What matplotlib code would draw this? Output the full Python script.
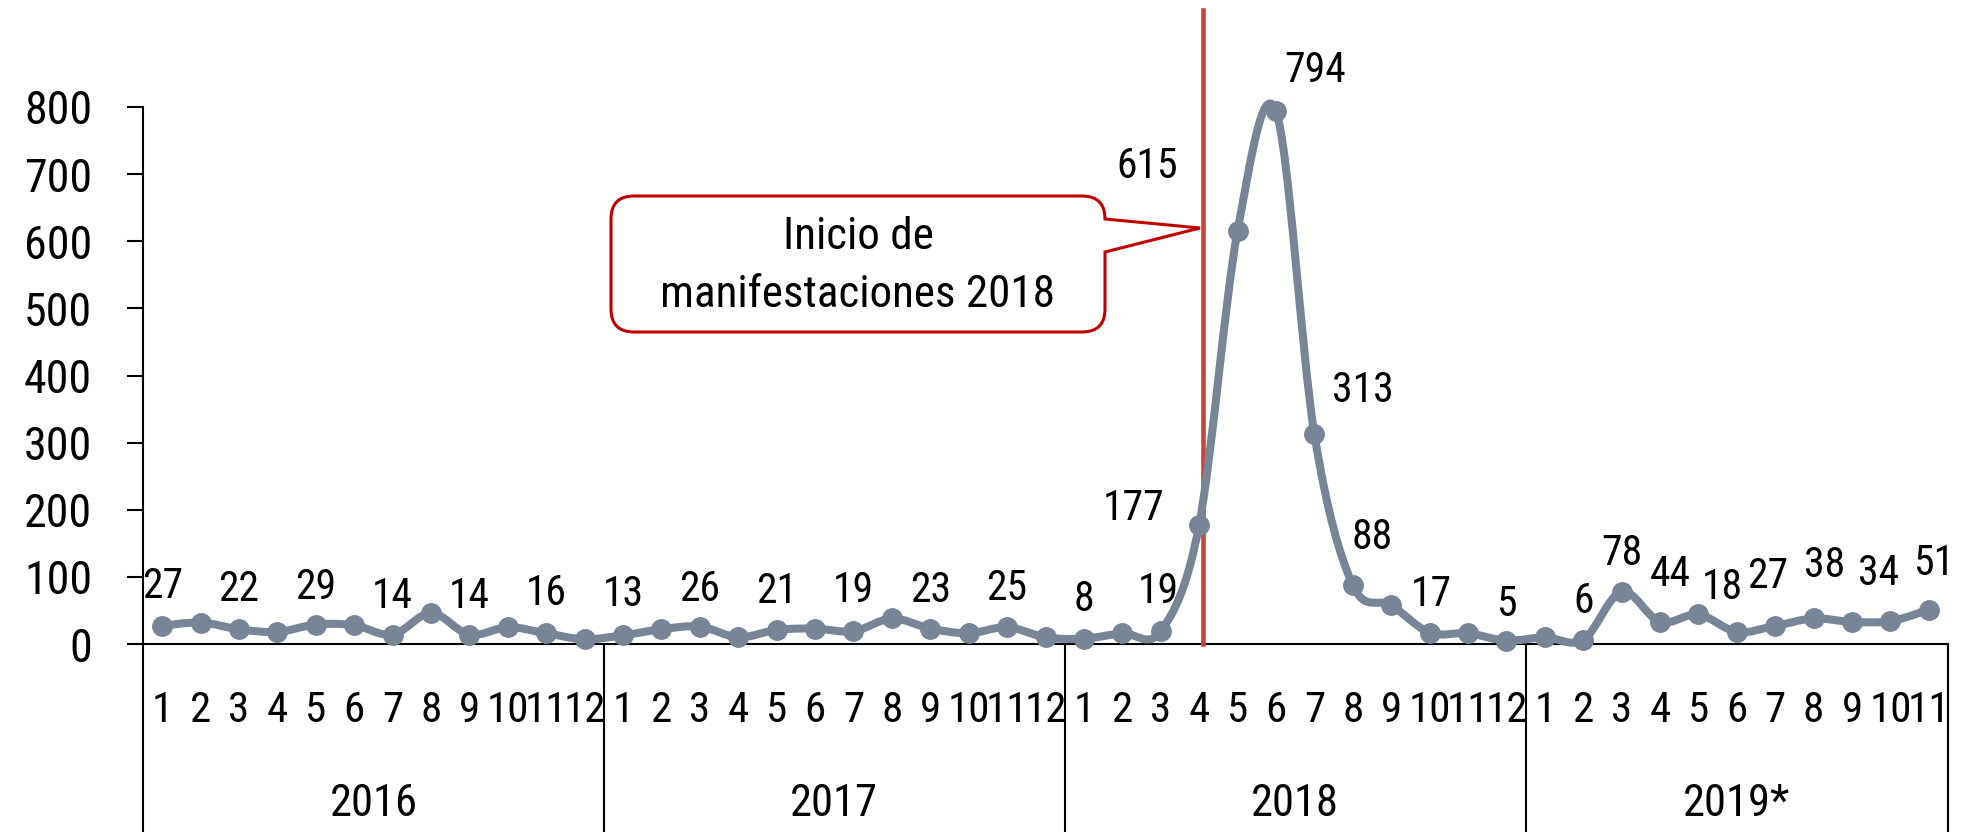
import numpy as np
import matplotlib
matplotlib.use('Agg')
import matplotlib.pyplot as plt
import matplotlib.transforms as mtransforms
from matplotlib.path import Path
from matplotlib.patches import PathPatch
from matplotlib import font_manager

# data: monthly counts 2016-01 .. 2019-11
years = ['2016', '2017', '2018', '2019*']
months_per_year = [12, 12, 12, 11]
values = [27, 32, 22, 18, 29, 28, 14, 46, 14, 25, 16, 7,
          13, 22, 26, 10, 21, 23, 19, 38, 23, 16, 25, 10,
          8, 16, 19, 177, 615, 794, 313, 88, 58, 17, 16, 5,
          10, 6, 78, 33, 44, 18, 27, 38, 33, 34, 51]
# which points carry a value label
label_idx = [0, 2, 4, 6, 8, 10, 12, 14, 16, 18, 20, 22,
             24, 26, 27, 28, 29, 30, 31, 33, 35,
             37, 38, 40, 41, 42, 43, 45, 46]
# label offsets in pixels (layout only)
label_off = [(0, 43), (0, 43), (0, 41), (0, 42), (0, 42), (0, 43),
             (0, 44), (0, 41), (0, 42), (0, 44), (0, 42), (0, 42),
             (0, 43), (-2, 43), (-65, 20), (-90, 68), (39, 44), (49, 47), (20, 51), (2, 42), (0, 40),
             (0, 42), (0, 42), (-28, 43), (-14, 48), (-7, 53), (11, 56), (-12, 51), (5, 50)]
event_x = 27.1
event_text = 'Inicio de\nmanifestaciones 2018'

W, H = 1962, 832
line_col = '#778596'


def pick(cands):
    for c in cands:
        try:
            font_manager.findfont(font_manager.FontProperties(family=c), fallback_to_default=False)
            return c
        except Exception:
            pass
    return 'DejaVu Sans'


main_font = pick(['Roboto Condensed', 'Liberation Sans Narrow', 'Roboto'])
narrow_font = pick(['Liberation Sans Narrow', 'Roboto Condensed', 'DejaVu Sans Condensed', 'Roboto'])
plt.rcParams['font.family'] = [main_font, 'DejaVu Sans']

fig = plt.figure(figsize=(W / 100, H / 100), dpi=100)
ax = fig.add_axes([143 / W, 1 - 644 / H, (1948 - 143) / W, (644 - 107) / H])

n = len(values)
x = np.arange(n)
pts = np.column_stack([x, values]).astype(float)

# smoothed line (catmull-rom as cubic bezier, like excel's smooth line)
verts = [pts[0]]
codes = [Path.MOVETO]
for i in range(n - 1):
    p0 = pts[max(i - 1, 0)]
    p1 = pts[i]
    p2 = pts[i + 1]
    p3 = pts[min(i + 2, n - 1)]
    verts += [p1 + (p2 - p0) / 6, p2 - (p3 - p1) / 6, p2]
    codes += [Path.CURVE4] * 3
ax.add_patch(PathPatch(Path(verts, codes), facecolor='none', edgecolor=line_col,
                       lw=5.8, capstyle='round', joinstyle='round', clip_on=False, zorder=4))
ax.plot(x, values, 'o', ms=14, color=line_col, clip_on=False, zorder=5)

for k, i in enumerate(label_idx):
    dx, dy = label_off[k]
    ax.annotate(str(values[i]), (i, values[i]), xytext=(dx, dy - 15), textcoords='offset pixels',
                ha='center', va='baseline', fontsize=30, color='black', annotation_clip=False)

ax.set_xlim(-0.5, n - 0.5)
ax.set_ylim(0, 800)
ax.set_yticks(np.arange(0, 801, 100))
ax.tick_params(axis='y', direction='out', length=11.5, width=1.5, pad=25, labelsize=33)
ax.set_xticks([])
for s in ['top', 'right']:
    ax.spines[s].set_visible(False)
ax.spines['left'].set_linewidth(1.5)
ax.spines['bottom'].set_linewidth(1.5)

# red event line
ax.plot([event_x, event_x], [0, 944], color='#C9453B', lw=3.3, clip_on=False, zorder=3)

# multi-level category axis
trans = mtransforms.blended_transform_factory(ax.transData, ax.transAxes)
pos = 0
bounds = [-0.5]
for yr, nm in zip(years, months_per_year):
    for m in range(nm):
        ax.text(pos + m, -0.1453, str(m + 1), transform=trans, ha='center', va='baseline',
                fontsize=31, family=[narrow_font, 'DejaVu Sans'])
    ax.text(pos + (nm - 1) / 2, -0.3203, yr, transform=trans, ha='center', va='baseline', fontsize=32)
    pos += nm
    bounds.append(pos - 0.5)
for b in bounds:
    ax.plot([b, b], [0, -0.36], transform=trans, color='black', lw=1.5, clip_on=False)

# callout box pointing at the red line
L, R, T, B, r = 611, 1105, 196, 332, 23
tip = (1200, 228)
bv = [(L + r, T), (R - r, T), (R, T), (R, T + r), (R, 219), tip, (R, 252), (R, B - r),
      (R, B), (R - r, B), (L + r, B), (L, B), (L, B - r), (L, T + r), (L, T), (L + r, T), (L + r, T)]
bc = [Path.MOVETO, Path.LINETO, Path.CURVE3, Path.CURVE3, Path.LINETO, Path.LINETO, Path.LINETO,
      Path.LINETO, Path.CURVE3, Path.CURVE3, Path.LINETO, Path.CURVE3, Path.CURVE3, Path.LINETO,
      Path.CURVE3, Path.CURVE3, Path.CLOSEPOLY]
px = mtransforms.Affine2D().scale(1 / W, -1 / H).translate(0, 1) + fig.transFigure
fig.add_artist(PathPatch(Path(bv, bc), transform=px, facecolor='white', edgecolor='#C00000',
                         lw=2.2, zorder=6))
fig.text(858 / W, 1 - 266 / H, event_text, ha='center', va='center', fontsize=32.5,
         linespacing=1.5, zorder=7)

fig.savefig('out.png', dpi=100)
